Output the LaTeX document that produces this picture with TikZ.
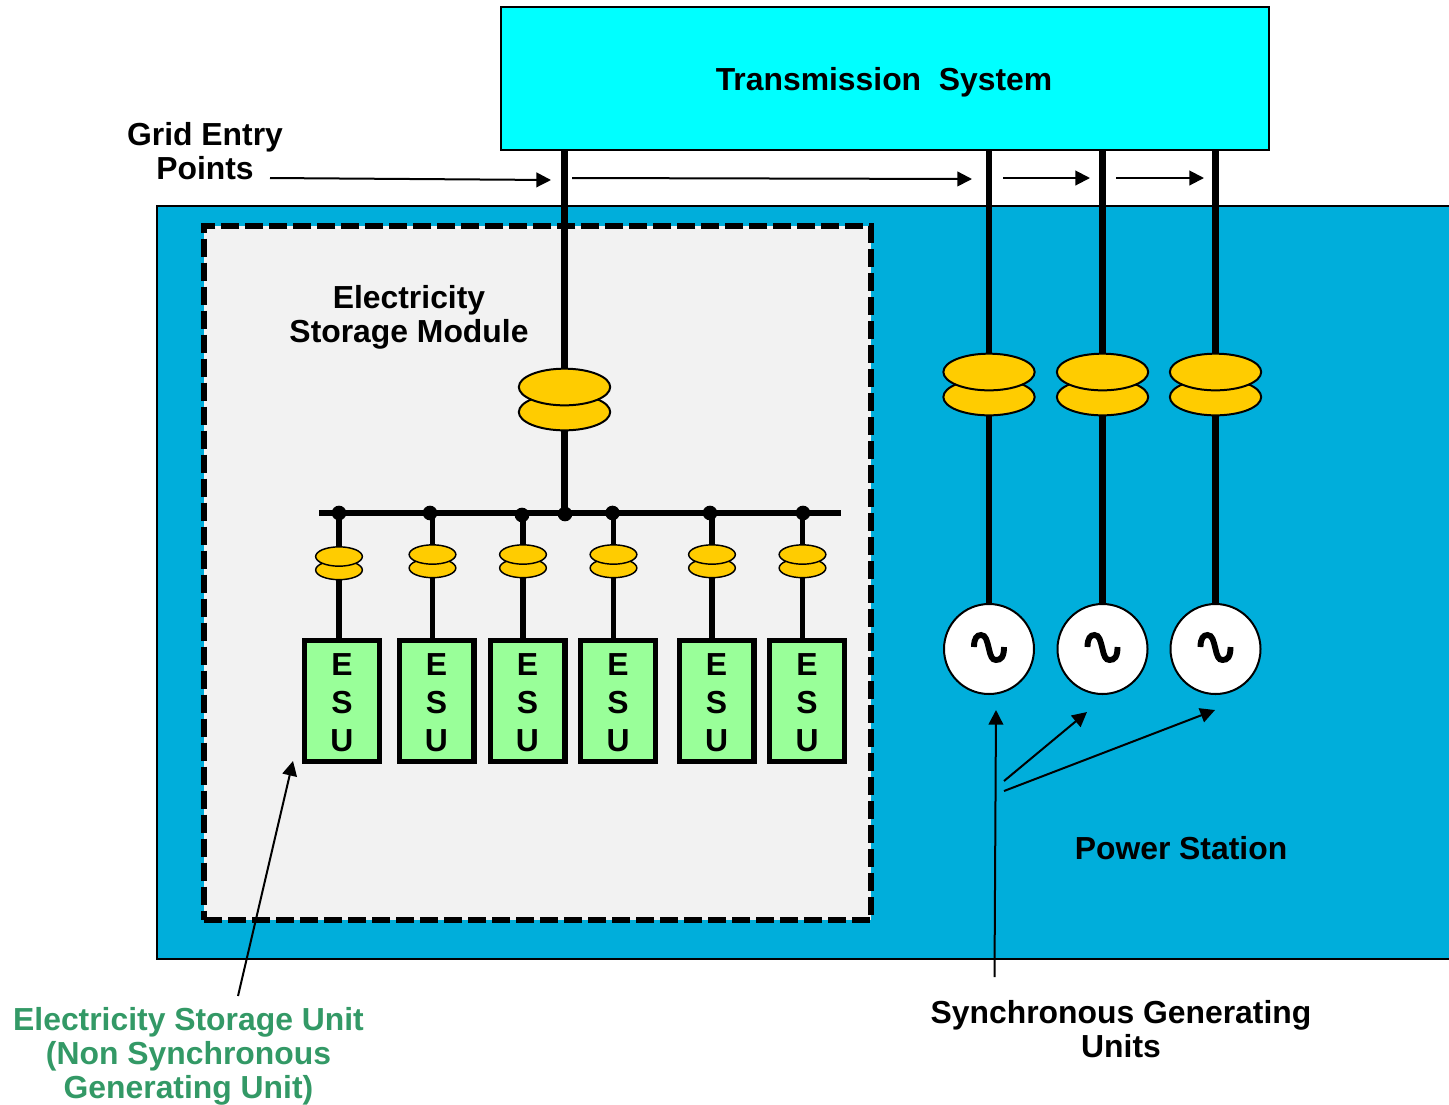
\documentclass[tikz,border=0pt]{standalone}
\usepackage{fontspec}
\setmainfont{Liberation Sans}
\usetikzlibrary{shapes.geometric,arrows.meta,calc}
\pgfdeclarelayer{back}
\pgfdeclarelayer{conn}
\pgfsetlayers{back,conn,main}
\definecolor{stationblue}{HTML}{00AEDB}
\definecolor{modulegrey}{HTML}{F2F2F2}
\definecolor{esugreen}{HTML}{99FF99}
\definecolor{transgold}{HTML}{FFCC00}
\definecolor{labelgreen}{HTML}{339966}
\definecolor{transcyan}{HTML}{00FFFF}
\tikzset{
  panel/.style={rectangle,inner sep=0pt,outer sep=0pt},
  lbl/.style={align=center,inner sep=0pt,font=\bfseries\fontsize{23.9}{25.6}\selectfont,text=black},
  greenlbl/.style={lbl,text=labelgreen},
  bigcoil/.style={ellipse,draw=black,line width=1.5pt,fill=transgold,minimum width=68.5pt,minimum height=27.5pt,inner sep=0pt,outer sep=0pt},
  smallcoil/.style={ellipse,draw=black,line width=1.1pt,fill=transgold,minimum width=35pt,minimum height=14.5pt,inner sep=0pt,outer sep=0pt},
  esubox/.style={rectangle,draw=black,line width=4pt,fill=esugreen,minimum width=56pt,minimum height=90.75pt,inner sep=0pt,outer sep=0pt},
  esutext/.style={inner sep=0pt,align=center,font=\bfseries\fontsize{23.9}{28.6}\selectfont},
  gen/.style={circle,draw=black,line width=1.5pt,fill=white,minimum size=67.5pt,inner sep=0pt,outer sep=0pt},
  busdot/.style={circle,fill=black,minimum size=11pt,inner sep=0pt,outer sep=0pt},
  mainline/.style={draw=black,line width=4.6pt},
  branch/.style={draw=black,line width=4.2pt},
  sinestroke/.style={draw=black,line width=4.4pt},
  pointer/.style={draw=black,line width=1.5pt,-{Triangle[length=11pt,width=11pt]}},
}
\newcommand{\sinewave}[1]{\draw[sinestroke,shift={(#1.center)}] (-15,-2) .. controls (-15,-11) and (-12,-14) .. (-8,-14) .. controls (-3,-14) and (-2,-8) .. (0,0) .. controls (1.5,7) and (3,11) .. (7,11) .. controls (12,11) and (15,8) .. (15,-2);}
\begin{document}
\begin{tikzpicture}[x=0.75pt,y=-0.75pt]
\useasboundingbox (0,0) rectangle (1449,1104);
\begin{pgfonlayer}{back}
  \node[panel,draw=black,line width=1.5pt,fill=stationblue,minimum width=971.25pt,minimum height=565pt,anchor=north west] (station) at (157,205.5) {};
  \node[panel,draw=black,dash pattern=on 13.5pt off 4.5pt,line width=4.3pt,fill=modulegrey,minimum width=500pt,minimum height=520.5pt,anchor=north west] (module) at (204,226) {};
\end{pgfonlayer}
\node[panel,draw=black,line width=1.6pt,fill=transcyan,minimum width=576pt,minimum height=107.25pt,anchor=north west] (ts) at (501,7) {};
\node[lbl] (tstext) at (884,82) {Transmission\ \ System};

\node[lbl] (gep) at (205,151.5) {Grid Entry\\Points};
\node[lbl] (esm) at (409,317) {Electricity\\Storage Module};
\node[lbl] (ps) at (1181,848.5) {Power Station};
\node[greenlbl] (esul) at (188.5,1056.5) {Electricity Storage Unit\\(Non Synchronous\\Generating Unit)};
\node[lbl] (sgu) at (1121,1029.5) {Synchronous Generating\\Units};

% module transformer
\node[bigcoil] (mb) at (564.5,412) {};
\node[bigcoil] (mt) at (564.5,387) {};

% generator transformers and generators
\foreach \n/\x in {1/989,2/1102.5,3/1215.5}{
  \node[bigcoil] (b\n) at (\x,397) {};
  \node[bigcoil] (t\n) at (\x,372) {};
  \node[gen] (g\n) at (\x,649) {};
  \sinewave{g\n}
  \begin{pgfonlayer}{conn}
    \draw[mainline] (ts.south -| t\n.north) -- (t\n.north);
    \draw[mainline] (b\n.south) -- (g\n.north);
  \end{pgfonlayer}
}

% bus
\coordinate (busL) at (319,513);
\coordinate (busR) at (841,513);
\node[busdot] (dm) at (565,514) {};
\draw[mainline] (busL) -- (busR);
\begin{pgfonlayer}{conn}
  \draw[mainline] (ts.south -| mt.north) -- (mt.north);
  \draw[mainline] (mb.south) -- (mb.south |- dm.center);
\end{pgfonlayer}

% ESU branches
\foreach \n/\dx/\dy/\cx/\cy/\ex in {1/339/513/339/556.5/342,2/430/513/432.5/554.5/436.5,3/522/515/523/554.5/527.5,4/612.5/513/613.5/554.5/618,5/710/513/712/554.5/716.5,6/803/513/802.5/554.5/807}{
  \node[busdot] (d\n) at (\dx,\dy) {};
  \node[smallcoil] (sb\n) at (\cx,\cy+13.5) {};
  \node[smallcoil] (st\n) at (\cx,\cy) {};
  \node[esubox] (esu\n) at (\ex,701) {};
  \node[esutext] (esutxt\n) at (\ex,703) {E\\S\\U};
  \begin{pgfonlayer}{conn}
    \draw[branch] (d\n.center -| st\n.north) -- (st\n.north);
    \draw[branch] (sb\n.south) -- (sb\n.south |- esu\n.north);
  \end{pgfonlayer}
}

% pointers
\coordinate (p0s) at (270,178);
\coordinate (p0e) at (551,180);
\coordinate (p1s) at (572,178);
\coordinate (p1e) at (972,179);
\coordinate (p2s) at (1003,178);
\coordinate (p2e) at (1090,178);
\coordinate (p3s) at (1116,178);
\coordinate (p3e) at (1204,178);
\coordinate (p4s) at (238,996);
\coordinate (p4e) at (293,761);
\coordinate (p5s) at (994.5,977);
\coordinate (p5e) at (996,710);
\coordinate (p6s) at (1004,781);
\coordinate (p6e) at (1087,712);
\coordinate (p7s) at (1004,791);
\coordinate (p7e) at (1215,710);
\foreach \i in {0,...,7}{\draw[pointer] (p\i s) -- (p\i e);}
\end{tikzpicture}
\end{document}
